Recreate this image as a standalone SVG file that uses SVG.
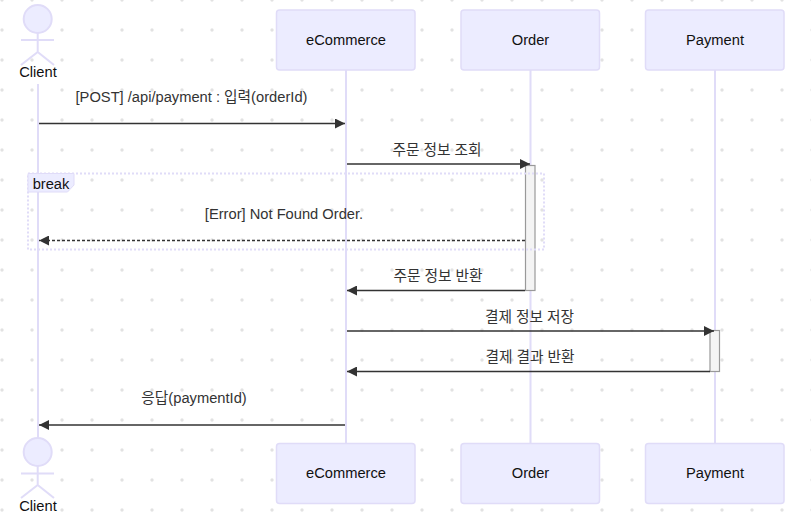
<svg xmlns="http://www.w3.org/2000/svg" width="811" height="529" viewBox="0 0 811 529">
<style>
text{font-family:"Liberation Sans","Noto Sans CJK KR",sans-serif;text-anchor:middle;dominant-baseline:central}
.box{fill:#ececff;stroke:#e0dcf8;stroke-width:1.5}
.act{font-size:14.7px;fill:#111}
.life{stroke:#e0dcf8;stroke-width:2;fill:none}
.limb{stroke:#e0dcf8;stroke-width:2;fill:none}
.head{fill:#ececff;stroke:#e0dcf8;stroke-width:2}
.msg{font-size:14.7px;fill:#333}
.ln{stroke:#333;stroke-width:1.5;fill:none}
.dash{stroke-dasharray:3 2}
.bar{fill:#f4f4f4;stroke:#999;stroke-width:1.2}
</style>
<defs>
<pattern id="dots" width="30" height="30" patternUnits="userSpaceOnUse" x="2" y="0">
<circle cx="0" cy="0" r="1.7" fill="#e2e2e2"/><circle cx="30" cy="0" r="1.7" fill="#e2e2e2"/><circle cx="0" cy="30" r="1.7" fill="#e2e2e2"/><circle cx="30" cy="30" r="1.7" fill="#e2e2e2"/>
</pattern>
<marker id="ah" markerWidth="10" markerHeight="10" refX="10" refY="5" viewBox="0 0 10 10" markerUnits="userSpaceOnUse" orient="auto-start-reverse"><path d="M0 0L10 5L0 10z" fill="#333"/></marker>
</defs>
<rect width="811" height="529" fill="#fff"/>
<rect width="811" height="529" fill="url(#dots)"/>
<g id="lifelines">
<line class="life" x1="38" y1="84" x2="38" y2="438"/>
<line class="life" x1="346" y1="70" x2="346" y2="444"/>
<line class="life" x1="530.5" y1="70" x2="530.5" y2="444"/>
<line class="life" x1="715" y1="70" x2="715" y2="444"/>
</g>
<g id="activations">
<rect class="bar" x="525.5" y="165.500" width="9.500" height="125"/>
<rect class="bar" x="710" y="330.500" width="9.500" height="41"/>
</g>
<g id="break-frame">
<rect x="28" y="173.500" width="516" height="76" fill="none" stroke="#e0dcf8" stroke-width="2" stroke-dasharray="2 2"/>
<path d="M28 173.500H74V185L67.500 192H28z" fill="#ececff" stroke="#e0dcf8" stroke-width="1"/>
<text x="51" y="184" style="font-size:14.7px;fill:#111">break</text>
</g>
<g id="client-top">
<circle class="head" cx="37.700" cy="19" r="14"/>
<path class="limb" d="M37.700 33V52M21 40H54M21 65L37.700 52L54 65"/>
<text class="act" x="38" y="72">Client</text>
</g>
<g id="ecommerce-top"><rect class="box" x="276.500" y="10" width="138.500" height="60" rx="3"/><text class="act" x="346" y="40">eCommerce</text></g>
<g id="order-top"><rect class="box" x="461" y="10" width="138.500" height="60" rx="3"/><text class="act" x="530.500" y="40">Order</text></g>
<g id="payment-top"><rect class="box" x="645.500" y="10" width="138.500" height="60" rx="3"/><text class="act" x="715" y="40">Payment</text></g>
<g id="client-bottom">
<circle class="head" cx="37.700" cy="452" r="14"/>
<path class="limb" d="M37.700 466V485M21 473.500H54M21 498L37.700 485L54 498"/>
<text class="act" x="38" y="505.500">Client</text>
</g>
<g id="ecommerce-bottom"><rect class="box" x="276.500" y="443.500" width="138.500" height="60" rx="3"/><text class="act" x="346" y="473">eCommerce</text></g>
<g id="order-bottom"><rect class="box" x="461" y="443.500" width="138.500" height="60" rx="3"/><text class="act" x="530.500" y="473">Order</text></g>
<g id="payment-bottom"><rect class="box" x="645.500" y="443.500" width="138.500" height="60" rx="3"/><text class="act" x="715" y="473">Payment</text></g>
<g id="connectors">
<line class="ln" x1="39" y1="123.500" x2="345" y2="123.500" marker-end="url(#ah)"/>
<line class="ln" x1="347" y1="164" x2="530" y2="164" marker-end="url(#ah)"/>
<line class="ln dash" x1="525" y1="240.500" x2="39" y2="240.500" marker-end="url(#ah)"/>
<line class="ln" x1="525" y1="290.500" x2="347" y2="290.500" marker-end="url(#ah)"/>
<line class="ln" x1="347" y1="331" x2="714" y2="331" marker-end="url(#ah)"/>
<line class="ln" x1="710" y1="371.500" x2="347" y2="371.500" marker-end="url(#ah)"/>
<line class="ln" x1="345" y1="425" x2="39" y2="425" marker-end="url(#ah)"/>
</g>
<g id="labels">
<text class="msg" x="191.500" y="97">[POST] /api/payment : 입력(orderId)</text>
<text class="msg" x="437" y="150">주문 정보 조회</text>
<text class="msg" x="284" y="214">[Error] Not Found Order.</text>
<text class="msg" x="438" y="276">주문 정보 반환</text>
<text class="msg" x="529.500" y="316.500">결제 정보 저장</text>
<text class="msg" x="530" y="357">결제 결과 반환</text>
<text class="msg" x="194" y="398">응답(paymentId)</text>
</g>
</svg>
